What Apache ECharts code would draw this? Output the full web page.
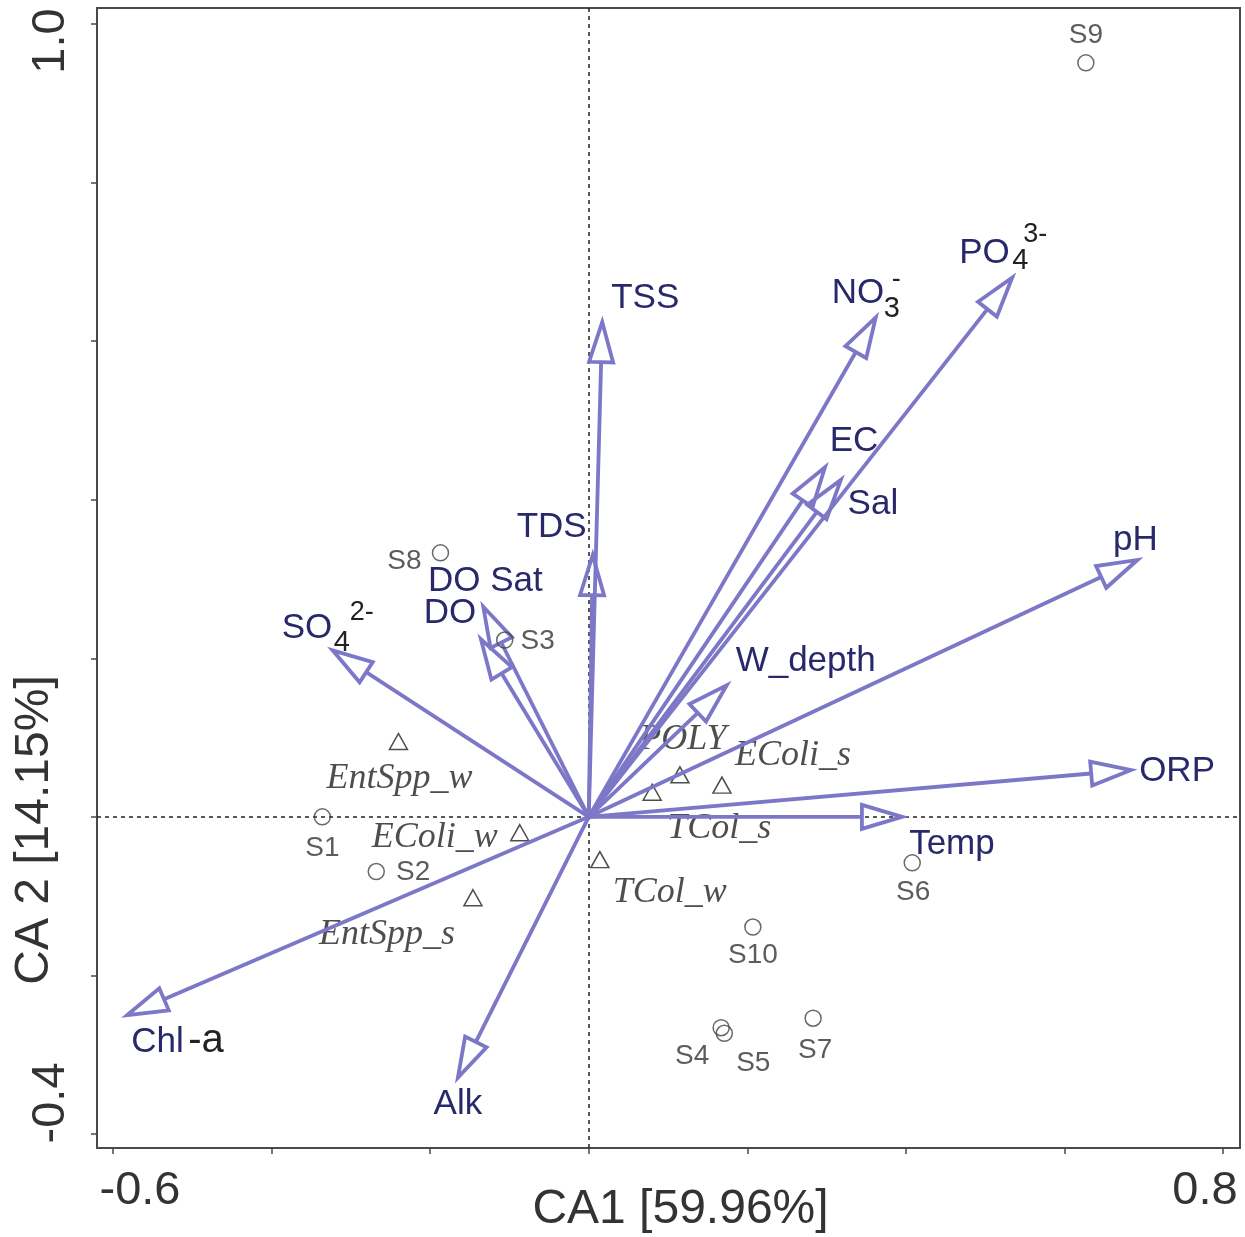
<!DOCTYPE html>
<html><head><meta charset="utf-8">
<script src="https://cdn.jsdelivr.net/npm/echarts@6/dist/echarts.min.js"></script>
<style>html,body{margin:0;padding:0;background:#fff}#c{width:1245px;height:1237px}</style>
</head><body><div id="c"></div>
<script>
// ---- data ----
const varNames = ['TSS','TDS','NO3','PO4','EC','Sal','pH','W_depth','ORP','Temp','SO4','DO Sat','DO','Chl-a','Alk'];
const varX = [0.017, 0.005, 0.362, 0.534, 0.298, 0.318, 0.692, 0.174, 0.684, 0.395, -0.323, -0.133, -0.136, -0.582, -0.165];
const varY = [0.624, 0.330, 0.630, 0.680, 0.441, 0.425, 0.324, 0.166, 0.059, 0.000, 0.210, 0.265, 0.224, -0.250, -0.329];

const siteNames = ['S1','S2','S3','S4','S5','S6','S7','S8','S9','S10'];
const siteX = [-0.336, -0.268, -0.106, 0.167, 0.171, 0.408, 0.283, -0.187, 0.627, 0.207];
const siteY = [0.000, -0.069, 0.223, -0.266, -0.273, -0.058, -0.254, 0.333, 0.951, -0.139];

const specNames = ['EntSpp_w','EColi_w','EntSpp_s','TCol_w','TCol_s','POLY','EColi_s'];
const specX = [-0.240, -0.087, -0.146, 0.014, 0.080, 0.115, 0.168];
const specY = [0.095, -0.020, -0.102, -0.054, 0.031, 0.053, 0.040];

const xTicks = [-0.6, -0.4, -0.2, 0, 0.2, 0.4, 0.6, 0.8];
const yTicks = [-0.4, -0.2, 0, 0.2, 0.4, 0.6, 0.8, 1.0];
const xTickLabels = [-0.6, 0.8];
const yTickLabels = [-0.4, 1.0];
const xName = 'CA1 [59.96%]';
const yName = 'CA 2 [14.15%]';

// ---- styles ----
const SANS = '"Liberation Sans", Arial, sans-serif';
const SERIF = '"Liberation Serif", "Times New Roman", serif';
const ARROW = '#7d77c8';
const NAVY = '#28286a';
const INK = '#222';

const varLabelParts = {
  'TSS': [{t:'TSS', dx:43, dy:-24}],
  'TDS': [{t:'TDS', dx:-41, dy:-28}],
  'NO3': [{t:'NO', dx:-44, dy:-24, a:'left'}, {t:'3', dx:8, dy:-8, a:'left', s:29, c:INK}, {t:'-', dx:16, dy:-38, a:'left', s:27, c:INK}],
  'PO4': [{t:'PO', dx:-53, dy:-24, a:'left'}, {t:'4', dx:0, dy:-17, a:'left', s:29, c:INK}, {t:'3-', dx:11, dy:-43, a:'left', s:27, c:INK}],
  'EC': [{t:'EC', dx:29, dy:-26}],
  'Sal': [{t:'Sal', dx:32, dy:24}],
  'pH': [{t:'pH', dx:-2, dy:-20}],
  'W_depth': [{t:'W_depth', dx:79, dy:-24}],
  'ORP': [{t:'ORP', dx:46, dy:1}],
  'Temp': [{t:'Temp', dx:50, dy:28}],
  'SO4': [{t:'SO', dx:-51, dy:-22, a:'left'}, {t:'4', dx:1, dy:-7, a:'left', s:29, c:INK}, {t:'2-', dx:17, dy:-38, a:'left', s:27, c:INK}],
  'DO Sat': [{t:'DO Sat', dx:2, dy:-25}],
  'DO': [{t:'DO', dx:-31, dy:-26}],
  'Chl-a': [{t:'Chl', dx:4, dy:27, a:'left'}, {t:'-a', dx:61, dy:26, a:'left', s:40, c:INK}],
  'Alk': [{t:'Alk', dx:0, dy:27}]
};
const siteLabelOffset = {S1:[0,31], S2:[37,1], S3:[33,1], S4:[-29,29], S5:[29,30], S6:[1,29], S7:[2,32], S8:[-36,8], S9:[0,-28], S10:[0,28]};
const specLabelOffset = {EntSpp_w:[1,37], EColi_w:[-85,5], EntSpp_s:[-86,37], TCol_w:[70,33], TCol_s:[67,36], POLY:[3,-35], EColi_s:[71,-30]};

function renderArrow(params, api) {
  const name = varNames[params.dataIndex];
  const o = api.coord([0, 0]);
  const p = api.coord([api.value(0), api.value(1)]);
  const dx = p[0] - o[0], dy = p[1] - o[1];
  const len = Math.sqrt(dx*dx + dy*dy) || 1;
  const ux = dx/len, uy = dy/len, nx = -uy, ny = ux;
  const L = 40, W = 12;
  const bx = p[0] - ux*L, by = p[1] - uy*L;
  const children = [
    {type:'line', shape:{x1:o[0], y1:o[1], x2:bx, y2:by}, style:{stroke:ARROW, lineWidth:3.8}},
    {type:'polygon', shape:{points:[[p[0],p[1]],[bx+nx*W,by+ny*W],[bx-nx*W,by-ny*W]]},
     style:{fill:'none', stroke:ARROW, lineWidth:3.8, lineJoin:'miter'}}
  ];
  (varLabelParts[name] || []).forEach(function(part){
    children.push({type:'text', x:p[0]+part.dx, y:p[1]+part.dy, z2:10,
      style:{text:part.t, fill:part.c || NAVY, fontSize:part.s || 35, fontFamily:SANS,
             align:part.a || 'center', verticalAlign:'middle'}});
  });
  return {type:'group', children:children};
}

const chart = echarts.init(document.getElementById('c'), null, {renderer:'canvas'});
chart.setOption({
  backgroundColor:'#fff',
  animation:false,
  grid:{left:97, right:5, top:8, bottom:89, show:true, borderColor:'#4a4a4a', borderWidth:2,
        backgroundColor:'transparent', containLabel:false, outerBoundsMode:'none'},
  xAxis:{
    type:'value', min:-0.6202, max:0.8214,
    name:xName, nameLocation:'middle', nameGap:38, nameMoveOverlap:false,
    nameTextStyle:{fontSize:48, color:'#333', fontFamily:SANS, padding:[0,0,0,24]},
    axisLine:{show:true, onZero:false, lineStyle:{color:'#4a4a4a', width:2}},
    axisTick:{show:true, length:6, customValues:xTicks, lineStyle:{color:'#4a4a4a', width:1.5}},
    axisLabel:{show:true, customValues:xTickLabels, margin:20,
      formatter:function(v){ return (v < 0 ? '{a|' : '{b|') + v.toFixed(1) + '}'; },
      rich:{
        a:{fontSize:47, color:'#333', fontFamily:SANS, padding:[0,0,0,54]},
        b:{fontSize:47, color:'#333', fontFamily:SANS, padding:[0,36,0,0]}
      }},
    splitLine:{show:false}
  },
  yAxis:{
    type:'value', min:-0.4177, max:1.0202,
    name:yName, nameLocation:'middle', nameGap:38, nameMoveOverlap:false,
    nameTextStyle:{fontSize:48, color:'#333', fontFamily:SANS, padding:[0,504,0,0]},
    axisLine:{show:true, onZero:false, lineStyle:{color:'#4a4a4a', width:2}},
    axisTick:{show:true, length:6, customValues:yTicks, lineStyle:{color:'#4a4a4a', width:1.5}},
    axisLabel:{show:true, customValues:yTickLabels, margin:22, rotate:90,
      formatter:function(v){ return (v > 0.5 ? '{t|' : '{m|') + v.toFixed(1) + '}'; },
      rich:{
        t:{fontSize:47, color:'#333', fontFamily:SANS, padding:[0,34,0,0]},
        m:{fontSize:47, color:'#333', fontFamily:SANS, padding:[0,0,0,62]}
      }},
    splitLine:{show:false}
  },
  series:[
    {
      name:'species', type:'scatter', z:1,
      symbol:'triangle', symbolSize:[18,16],
      itemStyle:{color:'rgba(0,0,0,0)', borderColor:'#222', borderWidth:1.5},
      data:specNames.map(function(n,i){
        return {value:[specX[i], specY[i]], name:n,
          label:{show:true, position:'inside', offset:specLabelOffset[n], formatter:n,
                 fontSize:36, fontStyle:'italic', fontFamily:SERIF, color:'#222'}};
      }),
      markLine:{silent:true, symbol:'none', z:1, animation:false,
        label:{show:false},
        lineStyle:{color:'#222', type:[4,4], width:1.5},
        data:[{xAxis:0},{yAxis:0}]}
    },
    {
      name:'variables', type:'custom', z:2, clip:false,
      renderItem:renderArrow,
      encode:{x:0, y:1},
      data:varNames.map(function(n,i){ return [varX[i], varY[i]]; })
    },
    {
      name:'sites', type:'scatter', z:3,
      symbol:'circle', symbolSize:16,
      itemStyle:{color:'rgba(0,0,0,0)', borderColor:'#444', borderWidth:1.5},
      data:siteNames.map(function(n,i){
        return {value:[siteX[i], siteY[i]], name:n,
          label:{show:true, position:'inside', offset:siteLabelOffset[n], formatter:n,
                 fontSize:28, fontFamily:SANS, color:'#333'}};
      })
    }
  ]
});
</script>
</body></html>
